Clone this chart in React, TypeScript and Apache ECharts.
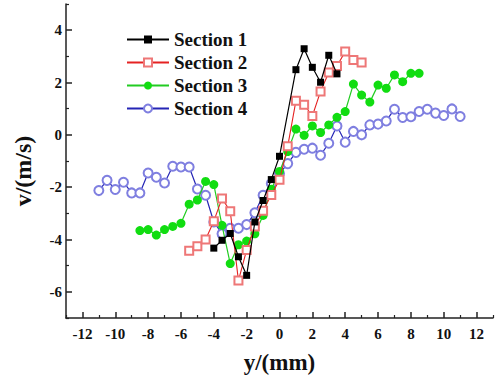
import React, { useEffect, useRef } from "react";
import * as echarts from "echarts";

const seriesNames = ["Section 1", "Section 2", "Section 3", "Section 4"];

const s1X = [-4, -3.5, -3, -2.5, -2, -1.5, -1, -0.5, 0, 1, 1.5, 2, 2.5, 3, 3.5];
const s1Y = [-4.33, -4.03, -3.77, -4.66, -5.37, -3.33, -2.51, -1.71, -0.82, 2.49, 3.29, 2.58, 2.01, 3.04, 2.33];

const s2X = [-5.5, -5, -4.5, -4, -3.5, -3, -2.5, -2, -1.5, -1, -0.5, 0, 0.5, 1, 1.5, 2, 2.5, 3, 3.5, 4, 4.5, 5];
const s2Y = [-4.43, -4.26, -4.0, -3.3, -2.43, -2.92, -5.57, -4.4, -3.5, -2.9, -2.3, -1.72, -0.44, 1.3, 1.15, 0.72, 1.66, 2.38, 2.63, 3.18, 2.86, 2.76];

const s3X = [-8.5, -8, -7.5, -7, -6.5, -6, -5.5, -5, -4.5, -4, -3.5, -3, -2.5, -2, -1.5, -1, -0.5, 0, 0.5, 1, 1.5, 2, 2.5, 3, 3.5, 4, 4.5, 5, 5.5, 6, 6.5, 7, 7.5, 8, 8.5];
const s3Y = [-3.66, -3.62, -3.83, -3.62, -3.5, -3.38, -2.65, -2.49, -1.78, -1.9, -3.46, -4.92, -4.2, -4.06, -3.78, -3.08, -2.08, -1.4, -0.64, 0.22, -0.02, 0.34, 0.09, 0.38, 0.67, 0.89, 1.94, 1.52, 1.25, 1.9, 1.78, 2.29, 2.03, 2.35, 2.35];

const s4X = [-11, -10.5, -10, -9.5, -9, -8.5, -8, -7.5, -7, -6.5, -6, -5.5, -5, -4.5, -4, -3.5, -3, -2.5, -2, -1.5, -1, -0.5, 0, 0.5, 1, 1.5, 2, 2.5, 3, 3.5, 4, 4.5, 5, 5.5, 6, 6.5, 7, 7.5, 8, 8.5, 9, 9.5, 10, 10.5, 11];
const s4Y = [-2.13, -1.74, -2.09, -1.81, -2.22, -2.22, -1.46, -1.62, -1.84, -1.2, -1.23, -1.23, -2.07, -2.31, -3.33, -3.78, -3.57, -3.57, -3.43, -2.98, -2.31, -1.86, -1.48, -1.1, -0.67, -0.55, -0.51, -0.78, -0.32, 0.34, -0.28, 0.13, 0.0, 0.38, 0.41, 0.53, 0.98, 0.66, 0.69, 0.89, 0.98, 0.83, 0.74, 0.99, 0.7];

const xMajorTicks = [-12, -10, -8, -6, -4, -2, 0, 2, 4, 6, 8, 10, 12];
const xMinorTicks = [-13, -11, -9, -7, -5, -3, -1, 1, 3, 5, 7, 9, 11, 13];
const yMajorTicks = [-6, -4, -2, 0, 2, 4];
const yMinorTicks = [-7, -5, -3, -1, 1, 3, 5];

const zip = (xs: number[], ys: number[]) => xs.map((x, i) => [x, ys[i]]);

const FONT = "Liberation Serif";

export default function App() {
  const ref = useRef<HTMLDivElement>(null);
  useEffect(() => {
    if (!ref.current) return;
    document.body.style.margin = "0";
    const chart = echarts.init(ref.current, null, { renderer: "svg" });
    const axisLine = { show: true, onZero: false, lineStyle: { color: "#222", width: 1.5 } };
    const labelStyle = { color: "#111", fontFamily: FONT, fontWeight: "bold" as const, fontSize: 15 };
    chart.setOption({
      animation: false,
      backgroundColor: "#fff",
      grid: { left: 66, right: 3, top: 4, bottom: 57, containLabel: false },
      legend: {
        orient: "vertical",
        left: 126,
        top: 30,
        padding: 0,
        itemWidth: 42,
        itemHeight: 10,
        itemGap: 4,
        textStyle: { color: "#111", fontFamily: FONT, fontWeight: "bold", fontSize: 19 },
        data: seriesNames,
      },
      xAxis: [
        {
          type: "value",
          min: -13,
          max: 13,
          position: "bottom",
          axisLine,
          splitLine: { show: false },
          axisTick: { show: true, inside: true, length: 6, customValues: xMajorTicks, lineStyle: { color: "#222", width: 1.5 } },
          axisLabel: { ...labelStyle, margin: 8, customValues: xMajorTicks },
          name: "y/(mm)",
          nameLocation: "middle",
          nameGap: 33,
          nameTextStyle: { color: "#111", fontFamily: FONT, fontWeight: "bold", fontSize: 23 },
        },
        {
          type: "value",
          min: -13,
          max: 13,
          position: "bottom",
          axisLine: { show: false, onZero: false },
          splitLine: { show: false },
          axisTick: { show: true, inside: true, length: 3, customValues: xMinorTicks, lineStyle: { color: "#222", width: 1.2 } },
          axisLabel: { show: false },
        },
      ],
      yAxis: [
        {
          type: "value",
          min: -7,
          max: 5,
          position: "left",
          axisLine,
          splitLine: { show: false },
          axisTick: { show: true, inside: true, length: 6, customValues: yMajorTicks, lineStyle: { color: "#222", width: 1.5 } },
          axisLabel: { ...labelStyle, margin: 4, customValues: yMajorTicks },
          name: "v/(m/s)",
          nameLocation: "middle",
          nameGap: 31,
          nameTextStyle: { color: "#111", fontFamily: FONT, fontWeight: "bold", fontSize: 24, padding: [0, 20, 0, 0] },
        },
        {
          type: "value",
          min: -7,
          max: 5,
          position: "left",
          axisLine: { show: false, onZero: false },
          splitLine: { show: false },
          axisTick: { show: true, inside: true, length: 3, customValues: yMinorTicks, lineStyle: { color: "#222", width: 1.2 } },
          axisLabel: { show: false },
        },
      ],
      series: [
        {
          name: seriesNames[0],
          type: "line",
          data: zip(s1X, s1Y),
          symbol: "rect",
          symbolSize: 7,
          lineStyle: { color: "#000", width: 1.2 },
          itemStyle: { color: "#000" },
          z: 5,
        },
        {
          name: seriesNames[1],
          type: "line",
          data: zip(s2X, s2Y),
          symbol: "emptyRect",
          symbolSize: 8,
          lineStyle: { color: "#e52222", width: 1.1 },
          itemStyle: { color: "#ee7777", borderWidth: 1.2 },
          z: 4,
        },
        {
          name: seriesNames[2],
          type: "line",
          data: zip(s3X, s3Y),
          symbol: "circle",
          symbolSize: 9,
          lineStyle: { color: "#22cc22", width: 1.2 },
          itemStyle: { color: "#11dd11" },
          z: 3,
        },
        {
          name: seriesNames[3],
          type: "line",
          data: zip(s4X, s4Y),
          symbol: "emptyCircle",
          symbolSize: 9,
          lineStyle: { color: "#2525b5", width: 1.2 },
          itemStyle: { color: "#7f7fe0", borderWidth: 1.2 },
          z: 2,
        },
      ],
    });
    return () => chart.dispose();
  }, []);
  return <div ref={ref} style={{ width: 496, height: 379 }} />;
}
